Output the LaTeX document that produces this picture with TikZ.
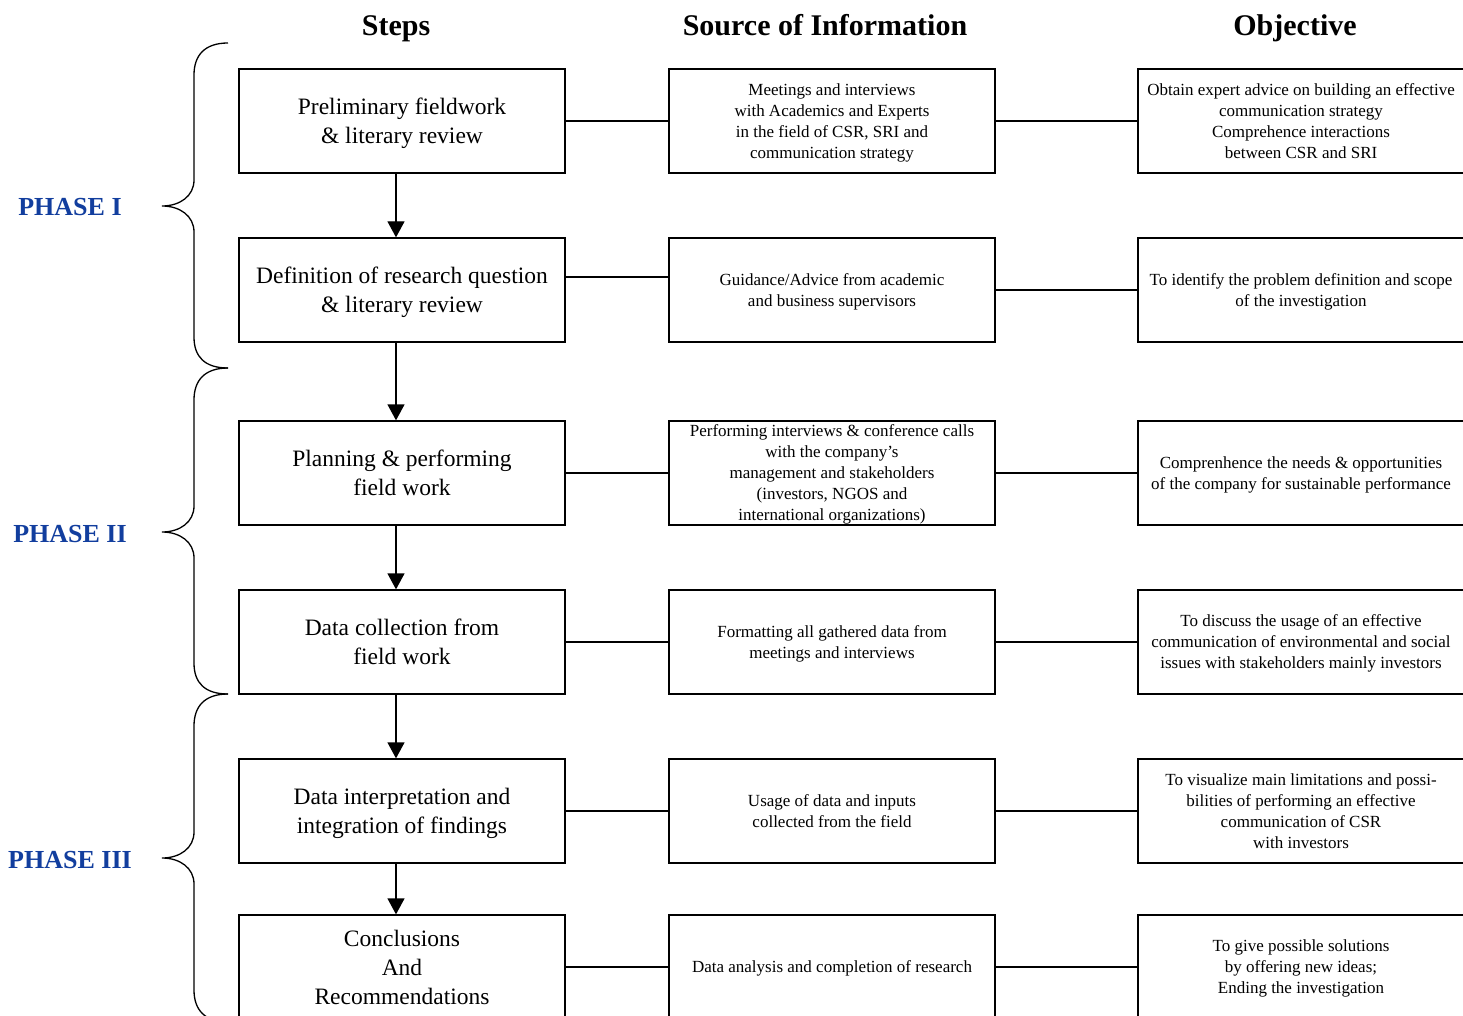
\documentclass[tikz,border=0pt]{standalone}
\usepackage{fontspec}
\setmainfont{Liberation Serif}
\newfontfamily\timesfont{Liberation Serif}
\usepackage{tikz}
\usetikzlibrary{arrows.meta}
\definecolor{phaseblue}{RGB}{18,62,158}

\tikzset{
  stepbox/.style={draw, line width=1.3pt, minimum width=326pt, minimum height=104pt,
    align=center, inner sep=2pt, text depth=0pt, font=\timesfont\fontsize{23.5}{29}\selectfont},
  infobox/.style={draw, line width=1.3pt, minimum width=326pt, minimum height=104pt,
    align=center, inner sep=2pt, text depth=0pt, font=\timesfont\fontsize{17}{21}\selectfont},
  head/.style={anchor=base, font=\timesfont\fontsize{30}{36}\selectfont\bfseries},
  phase/.style={anchor=base, text=phaseblue, font=\timesfont\fontsize{26}{30}\selectfont\bfseries},
  link/.style={line width=1.3pt},
  flow/.style={line width=1.3pt, -{Triangle[length=16pt,width=17pt]}},
  brace/.style={line width=1.3pt}
}

\begin{document}
\begin{tikzpicture}[x=1pt,y=-1pt]
  \useasboundingbox (0,0) rectangle (1463,1016);

  \node[head] (hsteps) at (396,36) {Steps};
  \node[head] (hsource) at (825,36) {Source of Information};
  \node[head] (hobj) at (1295,36) {Objective};

  \node[stepbox] (step1) at (402,121) {Preliminary fieldwork\\ \& literary review};
  \node[stepbox] (step2) at (402,290) {Definition of research question\\ \& literary review};
  \node[stepbox] (step3) at (402,473) {Planning \& performing\\ field work};
  \node[stepbox] (step4) at (402,642) {Data collection from\\ field work};
  \node[stepbox] (step5) at (402,811) {Data interpretation and\\ integration of findings};
  \node[stepbox] (step6) at (402,967) {Conclusions\\ And\\ Recommendations};

  \node[infobox] (src1) at (832,121) {Meetings and interviews\\ with Academics and Experts\\ in the field of CSR, SRI and\\ communication strategy};
  \node[infobox] (src2) at (832,290) {Guidance/Advice from academic\\ and business supervisors};
  \node[infobox] (src3) at (832,473) {Performing interviews \& conference calls\\ with the company’s\\ management and stakeholders\\ (investors, NGOS and\\ international organizations)};
  \node[infobox] (src4) at (832,642) {Formatting all gathered data from\\ meetings and interviews};
  \node[infobox] (src5) at (832,811) {Usage of data and inputs\\ collected from the field};
  \node[infobox] (src6) at (832,967) {Data analysis and completion of research};

  \node[infobox] (obj1) at (1301,121) {Obtain expert advice on building an effective\\ communication strategy\\ Comprehence interactions\\ between CSR and SRI};
  \node[infobox] (obj2) at (1301,290) {To identify the problem definition and scope\\ of the investigation};
  \node[infobox] (obj3) at (1301,473) {Comprenhence the needs \& opportunities\\ of the company for sustainable performance};
  \node[infobox] (obj4) at (1301,642) {To discuss the usage of an effective\\ communication of environmental and social\\ issues with stakeholders mainly investors};
  \node[infobox] (obj5) at (1301,811) {To visualize main limitations and possi-\\ bilities of performing an effective\\ communication of CSR\\ with investors};
  \node[infobox] (obj6) at (1301,967) {To give possible solutions\\ by offering new ideas;\\ Ending the investigation};

  \draw[flow] ([xshift=-6pt]step1.south) -- ([xshift=-6pt]step2.north);
  \draw[flow] ([xshift=-6pt]step2.south) -- ([xshift=-6pt]step3.north);
  \draw[flow] ([xshift=-6pt]step3.south) -- ([xshift=-6pt]step4.north);
  \draw[flow] ([xshift=-6pt]step4.south) -- ([xshift=-6pt]step5.north);
  \draw[flow] ([xshift=-6pt]step5.south) -- ([xshift=-6pt]step6.north);

  \draw[link] (step1) -- (src1) -- (obj1);
  \draw[link] ([yshift=13pt]step2.east) -- ([yshift=13pt]src2.west);
  \draw[link] (src2) -- (obj2);
  \draw[link] (step3) -- (src3) -- (obj3);
  \draw[link] (step4) -- (src4) -- (obj4);
  \draw[link] (step5) -- (src5) -- (obj5);
  \draw[link] (step6) -- (src6) -- (obj6);

  \node[phase] (ph1) at (70,216) {PHASE I};
  \node[phase] (ph2) at (70,542) {PHASE II};
  \node[phase] (ph3) at (70,868) {PHASE III};

  \draw[brace] (228,43) .. controls (205,43) and (194,55) .. (194,75) -- (194,180)
    .. controls (194,196) and (180,206) .. (162,206)
    .. controls (180,206) and (194,216) .. (194,232) -- (194,337)
    .. controls (194,357) and (205,368) .. (228,368);
  \draw[brace] (228,368) .. controls (205,368) and (194,380) .. (194,400) -- (194,506)
    .. controls (194,522) and (180,532) .. (162,532)
    .. controls (180,532) and (194,542) .. (194,558) -- (194,663)
    .. controls (194,683) and (205,694) .. (228,694);
  \draw[brace] (228,694) .. controls (205,694) and (194,706) .. (194,726) -- (194,832)
    .. controls (194,848) and (180,858) .. (162,858)
    .. controls (180,858) and (194,868) .. (194,884) -- (194,990)
    .. controls (194,1010) and (205,1022) .. (228,1022);
\end{tikzpicture}
\end{document}
